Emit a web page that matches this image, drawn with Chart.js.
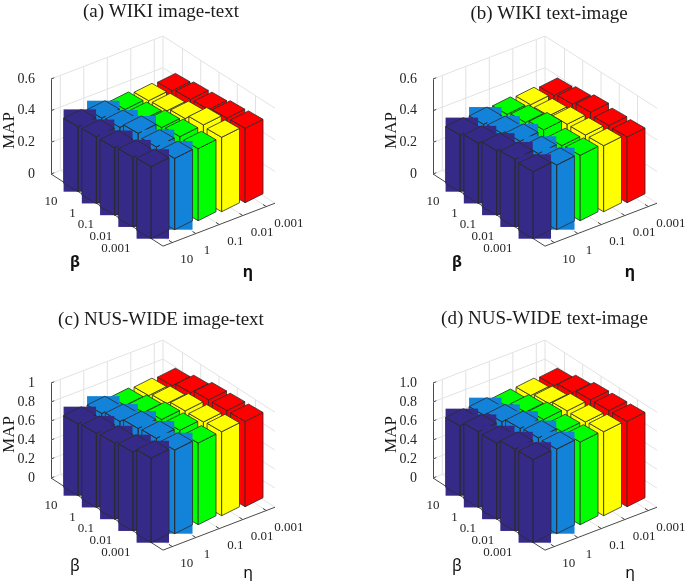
<!DOCTYPE html>
<html>
<head>
<meta charset="utf-8">
<script src="https://cdn.jsdelivr.net/npm/chart.js@4"></script>
<style>
html, body { margin: 0; padding: 0; background: #fff; overflow: hidden; width: 685px; height: 581px; }
canvas { position: absolute; }
</style>
</head>
<body>
<canvas id="panelA" width="360" height="290"></canvas>
<canvas id="panelB" width="360" height="290"></canvas>
<canvas id="panelC" width="360" height="290"></canvas>
<canvas id="panelD" width="360" height="290"></canvas>
<script>
// categories
var betaLabels = ['10', '1', '0.1', '0.01', '0.001'];
var etaLabels = ['10', '1', '0.1', '0.01', '0.001'];

// MAP values, one row per eta (10 ... 0.001), each row runs over beta (10 ... 0.001)
var wikiImageText = [
    [0.41, 0.42, 0.425, 0.44, 0.455],
    [0.408, 0.423, 0.46, 0.448, 0.45],
    [0.406, 0.417, 0.44, 0.457, 0.455],
    [0.404, 0.415, 0.44, 0.474, 0.47],
    [0.41, 0.43, 0.44, 0.46, 0.47]
];
var wikiTextImage = [
    [0.358, 0.38, 0.408, 0.427, 0.423],
    [0.368, 0.385, 0.41, 0.406, 0.408],
    [0.375, 0.398, 0.425, 0.40, 0.413],
    [0.379, 0.383, 0.404, 0.41, 0.417],
    [0.381, 0.40, 0.423, 0.413, 0.415]
];
var nusImageText = [
    [0.754, 0.78, 0.80, 0.83, 0.89],
    [0.77, 0.81, 0.86, 0.88, 0.88],
    [0.76, 0.81, 0.86, 0.87, 0.86],
    [0.77, 0.81, 0.856, 0.863, 0.884],
    [0.78, 0.83, 0.877, 0.888, 0.898]
];
var nusTextImage = [
    [0.733, 0.796, 0.80, 0.86, 0.874],
    [0.754, 0.807, 0.86, 0.884, 0.89],
    [0.75, 0.814, 0.86, 0.856, 0.87],
    [0.77, 0.81, 0.856, 0.863, 0.884],
    [0.78, 0.83, 0.877, 0.888, 0.898]
];

// MAP tick labels
var ticksWiki = ['0', '0.2', '0.4', '0.6'];
var ticksNusC = ['0', '0.2', '0.4', '0.6', '0.8', '1'];
var ticksNusD = ['0', '0.2', '0.4', '0.6', '0.8', '1.0'];

var etaColors = ['#352a87', '#1283d8', '#00ff00', '#ffff00', '#ff0000'];
var edgeColor = '#2b2b2b';
var axisColor = '#4a4a4a';
var gridColor = '#e2e2e2';
var serif = '"Liberation Serif"';

// ground projection, the scales give the horizontal travel and this turns it into vertical travel
var betaSlope = 0.644;
var etaSlope = 0.383;
var betaStep = 18.25, etaStep = 23.5, halfGround = 112;
var betaZero = 19.5, etaZero = 9.3;
var betaHalf = 0.4, etaHalf = 0.38;
var footBetaSlope = 0.58, footEtaSlope = 0.5;

var cube = {
    id: 'cube',
    beforeDatasetsDraw: function (chart) {
        var ctx = chart.ctx;
        var yS = chart.scales.y, bS = chart.scales.beta, eS = chart.scales.eta;
        var left = chart.chartArea.left;

        function travelB(b) { return bS.getPixelForValue(b) - bS.left; }
        function travelE(e) { return eS.getPixelForValue(e) - eS.left; }
        function project(b, e, z) {
            var db = travelB(b), de = travelE(e);
            return { x: left + db + de, y: yS.getPixelForValue(z) + db * betaSlope - de * etaSlope };
        }
        function line(p, q, color, w) {
            ctx.strokeStyle = color;
            ctx.lineWidth = w;
            ctx.beginPath();
            ctx.moveTo(p.x, p.y);
            ctx.lineTo(q.x, q.y);
            ctx.stroke();
        }
        function face(pts, color) {
            ctx.beginPath();
            pts.forEach(function (p, i) { i ? ctx.lineTo(p.x, p.y) : ctx.moveTo(p.x, p.y); });
            ctx.closePath();
            if (color) { ctx.fillStyle = color; ctx.fill(); }
            ctx.strokeStyle = edgeColor;
            ctx.lineWidth = 0.8;
            ctx.stroke();
        }

        var bMin = bS.min, eMin = eS.min;
        var bEnd = bS.getValueForPixel(bS.left + halfGround);
        var eEnd = eS.getValueForPixel(eS.left + halfGround);
        var zMax = yS.max;

        // walls and floor
        yS.ticks.forEach(function (t) {
            line(project(bMin, eMin, t.value), project(bMin, eEnd, t.value), gridColor, 1);
            line(project(bMin, eEnd, t.value), project(bEnd, eEnd, t.value), gridColor, 1);
        });
        betaLabels.forEach(function (l, b) {
            line(project(b, eEnd, 0), project(b, eEnd, zMax), gridColor, 1);
            line(project(b, eMin, 0), project(b, eEnd, 0), gridColor, 1);
        });
        etaLabels.forEach(function (l, e) {
            line(project(bMin, e, 0), project(bMin, e, zMax), gridColor, 1);
            line(project(bMin, e, 0), project(bEnd, e, 0), gridColor, 1);
        });
        line(project(bMin, eEnd, 0), project(bMin, eEnd, zMax), gridColor, 1);

        // ground axes
        line(project(bMin, eMin, 0), project(bEnd, eMin, 0), axisColor, 1);
        line(project(bEnd, eMin, 0), project(bEnd, eEnd, 0), axisColor, 1);
        ctx.font = '13px ' + serif;
        ctx.textBaseline = 'middle';
        betaLabels.forEach(function (l, b) {
            var p = project(b, eMin, 0);
            line(p, project(b, eMin + 0.14, 0), axisColor, 1);
            ctx.fillStyle = '#262626';
            ctx.textAlign = 'right';
            ctx.fillText(l, p.x - 13, p.y + 15);
        });
        etaLabels.forEach(function (l, e) {
            var p = project(bEnd, e, 0);
            line(p, project(bEnd - 0.18, e, 0), axisColor, 1);
            ctx.fillStyle = '#262626';
            ctx.textAlign = 'left';
            ctx.fillText(l, p.x + 8, p.y + 17);
        });
        // small ticks on the MAP axis
        yS.ticks.forEach(function (t) {
            line(project(bMin, eMin, t.value), project(bMin, eMin + 0.14, t.value), axisColor, 1);
        });

        // axis names
        var opts = chart.options.plugins.cube;
        ctx.fillStyle = '#111';
        ctx.textAlign = 'center';
        ctx.font = opts.nameFont;
        ctx.fillText('\u03b2', left + 24, yS.bottom + opts.betaDrop);
        ctx.fillText('\u03b7', left + 197, yS.bottom + opts.etaDrop);

        ctx.save();
        ctx.translate(left - 41, (yS.top + yS.bottom) / 2 + 4);
        ctx.rotate(-Math.PI / 2);
        ctx.font = '17px ' + serif;
        ctx.fillStyle = '#1a1a1a';
        ctx.fillText('MAP', 0, 0);
        ctx.restore();

        // bars, red row first, purple row last
        for (var d = chart.data.datasets.length - 1; d >= 0; d--) {
            var ds = chart.data.datasets[d];
            ds.data.forEach(function (pt) {
                var b = pt.x, e = d, v = pt.y;
                var dbHalf = travelB(b + betaHalf) - travelB(b);
                var deHalf = travelE(e + etaHalf) - travelE(e);
                var c0 = project(b, e, 0), c1 = project(b, e, v);
                function corner(c, sb, se) {
                    return {
                        x: c.x + sb * dbHalf + se * deHalf,
                        y: c.y + sb * dbHalf * footBetaSlope - se * deHalf * footEtaSlope
                    };
                }
                var lt = corner(c1, -1, -1), ft = corner(c1, 1, -1), rt = corner(c1, 1, 1), bt = corner(c1, -1, 1);
                var lb = corner(c0, -1, -1), fb = corner(c0, 1, -1), rb = corner(c0, 1, 1);
                if (ds.boxFill) {
                    // the two front rows print as filled bounding boxes in the original
                    ctx.fillStyle = ds.barColor;
                    ctx.fillRect(lt.x, bt.y, rt.x - lt.x, fb.y - bt.y);
                    face([lt, ft, fb, lb]);
                    face([ft, rt, rb, fb]);
                    face([lt, ft, rt, bt]);
                } else {
                    face([lt, ft, fb, lb], ds.barColor);
                    face([ft, rt, rb, fb], ds.barColor);
                    face([lt, ft, rt, bt], ds.barColor);
                }
            });
        }
    }
};

function makePanel(id, title, rows, mapLabels, zMax, step, center, top, titleY, nameFont, betaDrop, etaDrop, axisLeft) {
    var canvas = document.getElementById(id);
    var canvasLeft = Math.floor(center - 180);
    canvas.style.left = canvasLeft + 'px';
    canvas.style.top = top + 'px';
    var areaLeft = axisLeft - canvasLeft;
    var padLeft = areaLeft - 48;
    // the title centres on the padded box, so the box right edge mirrors its left edge round the title centre
    var boxRight = 2 * (center - canvasLeft) - padLeft;
    var areaWidth = boxRight - areaLeft;
    var pad = titleY - 11.4;

    var datasets = rows.map(function (row, e) {
        return {
            label: etaLabels[e],
            barColor: etaColors[e],
            boxFill: e < 2,
            xAxisID: 'beta',
            yAxisID: 'y',
            pointRadius: 0,
            showLine: false,
            data: row.map(function (v, b) { return { x: b, y: v }; })
        };
    });

    new Chart(canvas.getContext('2d'), {
        type: 'scatter',
        data: { datasets: datasets },
        plugins: [cube],
        options: {
            responsive: false,
            animation: false,
            events: [],
            layout: {
                autoPadding: false,
                padding: { left: padLeft, right: 360 - boxRight, top: 0, bottom: 116 }
            },
            plugins: {
                legend: { display: false },
                tooltip: { enabled: false },
                title: {
                    display: true,
                    text: title,
                    color: '#1a1a1a',
                    font: { family: serif, size: 19, weight: 'normal' },
                    padding: { top: pad, bottom: 79 - 22.8 - pad }
                },
                cube: { nameFont: nameFont, betaDrop: betaDrop, etaDrop: etaDrop }
            },
            scales: {
                beta: {
                    type: 'linear', axis: 'x', display: false,
                    min: -betaZero / betaStep,
                    max: (areaWidth - betaZero) / betaStep
                },
                eta: {
                    type: 'linear', axis: 'x', display: false,
                    min: -etaZero / etaStep,
                    max: (areaWidth - etaZero) / etaStep
                },
                y: {
                    type: 'linear', position: 'left',
                    min: 0, max: zMax,
                    afterFit: function (s) { s.width = 48; },
                    grid: { display: false },
                    border: { display: true, color: axisColor, width: 1 },
                    ticks: {
                        stepSize: step,
                        autoSkip: false,
                        padding: 8,
                        color: '#262626',
                        font: { family: serif, size: 14 },
                        callback: function (v, i) { return mapLabels[i]; }
                    }
                }
            }
        }
    });
}

makePanel('panelA', '(a) WIKI image-text', wikiImageText, ticksWiki, 0.6, 0.2, 161, 0, 12, 'bold 16px "Noto Sans"', 88, 98, 51);
makePanel('panelB', '(b) WIKI text-image', wikiTextImage, ticksWiki, 0.6, 0.2, 549, 0, 14, 'bold 16px "Noto Sans"', 88, 98, 433);
makePanel('panelC', '(c) NUS-WIDE image-text', nusImageText, ticksNusC, 1, 0.2, 161, 304, 16, '16px "Noto Sans"', 88, 95, 51);
makePanel('panelD', '(d) NUS-WIDE text-image', nusTextImage, ticksNusD, 1, 0.2, 544.5, 304, 15, '16px "Noto Sans"', 88, 95, 433);
</script>
</body>
</html>
